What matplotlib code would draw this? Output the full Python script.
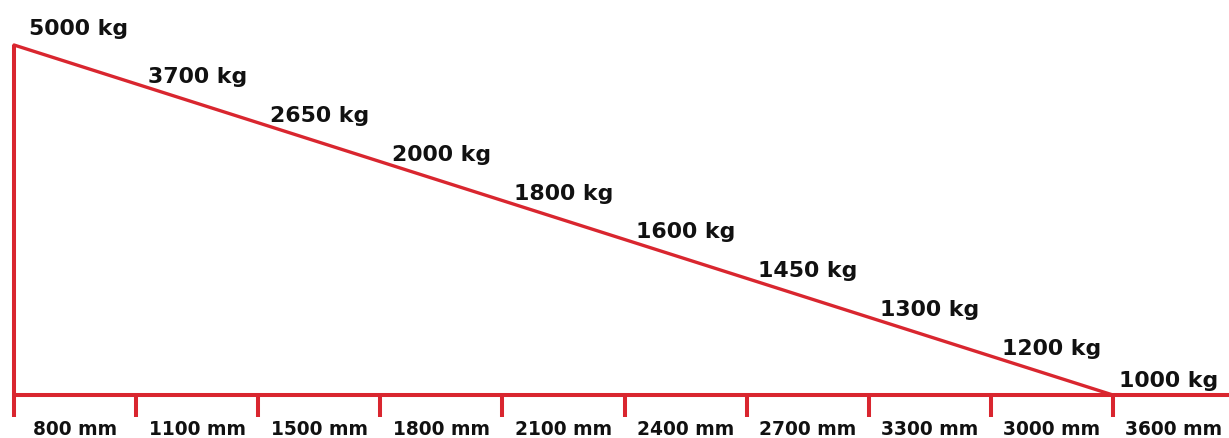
import matplotlib
matplotlib.use("Agg")
import matplotlib.pyplot as plt

# Daten (Tragfähigkeit je Abschnitt)
weights = [5000, 3700, 2650, 2000, 1800, 1600, 1450, 1300, 1200, 1000]
lengths = [800, 1100, 1500, 1800, 2100, 2400, 2700, 3300, 3000, 3600]

RED = "#d9262f"
INK = "#111111"
PX = 0.72  # 1 px in points at dpi 100

n = len(weights)
last = n - 1

fig = plt.figure(figsize=(12.29, 4.38), dpi=100)
ax = fig.add_axes([0, 0, 1, 1])
ax.set_xlim(-14 / 122.1, (1229 - 14) / 122.1)
ax.set_ylim(-(438 - 395) / 350, 1 + 45 / 350)
ax.axis("off")

tick_low = -22 / 350

# Grundlinie, senkrechte Linie und Teilstriche
ax.plot([0, ax.get_xlim()[1]], [0, 0], color=RED, lw=2.9, solid_capstyle="butt")
ax.plot([0, 0], [1, tick_low], color=RED, lw=2.9, solid_capstyle="butt")
for i in range(1, n):
    ax.plot([i, i], [0, tick_low], color=RED, lw=2.9, solid_capstyle="butt")

# Diagonale
ax.plot([0, last], [1, 0], color=RED, lw=2.4, solid_capstyle="round")

# Beschriftungen kg
for i, w in enumerate(weights):
    y = 1 - i / last
    dx, dy = 0, 1
    if i == 0:
        dx, dy = 4, 10
    elif i == last:
        dx, dy = -5, 8
    ax.annotate(f"{w} kg", xy=(i + 0.5, y), xytext=(dx * PX, dy * PX),
                textcoords="offset points", ha="center", va="baseline",
                fontsize=15.8, fontweight="bold", color=INK)

# Beschriftungen mm
for i, l in enumerate(lengths):
    ax.text(i + 0.5, -40 / 350, f"{l} mm", ha="center", va="baseline",
            fontsize=13.4, fontweight="bold", color=INK)

fig.savefig("out.png", dpi=100)
